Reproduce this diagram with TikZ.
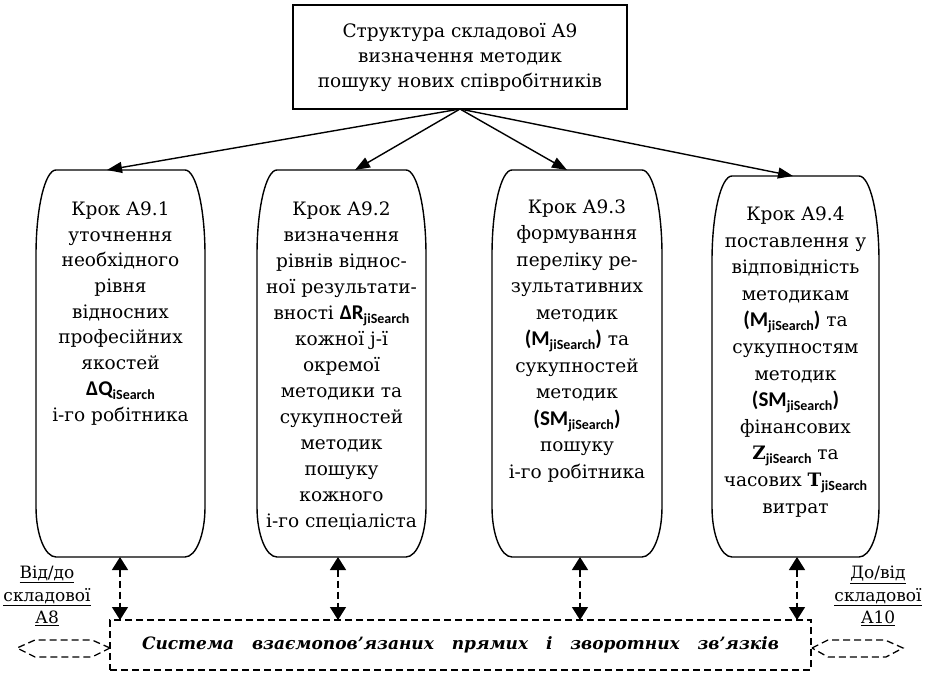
\documentclass[tikz,border=0pt]{standalone}
\usepackage{fontspec}
\setmainfont{DejaVu Serif}
\newfontfamily\carl{Carlito}
\usetikzlibrary{arrows.meta}

% bold sans symbols with lowered bold sans indices
\newcommand\ssub[1]{\raisebox{-4pt}{\fontsize{14}{14}\selectfont\carl\bfseries #1}}
\newcommand\bsym[1]{{\fontsize{21}{21}\selectfont\carl\bfseries #1}}
\newcommand\bser[1]{{\bfseries #1}}

% step outline: flat top and bottom, tall elliptic corners
\newcommand\stepshape[3]{%
  \draw[frame] ([xshift=20pt]#1.north west) -- ([xshift=-20pt]#1.north east)
    arc[start angle=90,end angle=0,x radius=20pt,y radius=#2]
    -- ([yshift=#3]#1.south east)
    arc[start angle=0,end angle=-90,x radius=20pt,y radius=#3]
    -- ([xshift=20pt]#1.south west)
    arc[start angle=270,end angle=180,x radius=20pt,y radius=#3]
    -- ([yshift=-#2]#1.north west)
    arc[start angle=180,end angle=90,x radius=20pt,y radius=#2] -- cycle;}

\begin{document}
\begin{tikzpicture}[x=1pt,y=-1pt,
  frame/.style={draw, line width=1.4pt},
  stepbox/.style={draw=none, inner sep=0pt, outer sep=0pt, anchor=north west},
  steptext/.style={anchor=north, align=center, inner sep=0pt, font=\fontsize{18.5}{#1}\selectfont},
  steptext/.default=26,
  arr/.style={line width=1.4pt, -{Triangle[length=15pt,width=11pt]}},
  darr/.style={line width=1.5pt, dash pattern=on 7pt off 4pt,
    {Triangle[length=13pt,width=16pt]}-{Triangle[length=13pt,width=16pt]}},
  dashln/.style={line width=1.3pt, dash pattern=on 7pt off 4pt},
  side/.style={align=center, inner sep=0pt, font=\fontsize{17}{22.5}\selectfont}
]
\useasboundingbox (0,0) rectangle (930,674);

% title block
\node[frame, minimum width=334pt, minimum height=104pt, inner sep=0pt, outer sep=0pt,
  align=center, font=\fontsize{18.5}{25}\selectfont] (top) at (460,57)
  {Структура складової А9\\визначення методик\\пошуку нових співробітників};

% step frames
\node[stepbox, minimum width=169pt, minimum height=387pt] (b1) at (36,170) {};
\node[stepbox, minimum width=169pt, minimum height=387pt] (b2) at (257,170) {};
\node[stepbox, minimum width=170pt, minimum height=387pt] (b3) at (492,170) {};
\node[stepbox, minimum width=167pt, minimum height=381pt] (b4) at (712,176) {};
\stepshape{b1}{85pt}{50pt}
\stepshape{b2}{85pt}{50pt}
\stepshape{b3}{85pt}{50pt}
\stepshape{b4}{85pt}{50pt}

% step texts
\node[steptext=25.7] (t1) at (120.5,201.5) {Крок А9.1\\уточнення\\необхідного\\рівня\\відносних\\професійних\\якостей\\
  \bsym{ΔQ}\ssub{iSearch}\\і-го робітника};
\node[steptext] (t2) at (341.5,201.5) {Крок А9.2\\визначення\\рівнів віднос-\\ної результати-\\
  вності \bsym{ΔR}\ssub{jiSearch}\\кожної j-ї\\окремої\\методики та\\сукупностей\\методик\\пошуку\\кожного\\і-го спеціаліста};
\node[steptext=26.5] (t3) at (577,199.5) {Крок А9.3\\формування\\переліку ре-\\зультативних\\методик\\
  \bsym{(M}\ssub{jiSearch}\bsym{)} та\\сукупностей\\методик\\\bsym{(SM}\ssub{jiSearch}\bsym{)}\\пошуку\\і-го робітника};
\node[steptext=26.6] (t4) at (795.5,206.5) {Крок А9.4\\поставлення у\\відповідність\\методикам\\
  \bsym{(M}\ssub{jiSearch}\bsym{)} та\\сукупностям\\методик\\\bsym{(SM}\ssub{jiSearch}\bsym{)}\\фінансових\\
  \bser{Z}\ssub{jiSearch} та\\часових \bser{T}\ssub{jiSearch}\\витрат};

% links system
\node[dashln, draw, minimum width=701pt, minimum height=50pt, inner sep=0pt, outer sep=0pt,
  font=\fontsize{17}{20}\selectfont\bfseries\itshape] (sys) at (460.5,645)
  {\makebox[637pt][s]{Система взаємопов’язаних прямих і зворотних зв’язків}};

% side labels
\node[side] (lin) at (47,596) {\underline{Від/до}\\\underline{складової}\\\underline{А8}};
\node[side] (rin) at (878,596) {\underline{До/від}\\\underline{складової}\\\underline{А10}};

% exchange with neighbouring components
\draw[dashln] (110,648) -- (92,640) -- (35,640) -- (17,648) -- (35,657) -- (92,657) -- cycle;
\draw[dashln] (812,648) -- (828,640) -- (885,640) -- (903,648) -- (886,657) -- (828,657) -- cycle;

% structure arrows
\draw[arr] (top.south) -- ([xshift=-13.5pt]b1.north);
\draw[arr] (top.south) -- ([xshift=13.5pt]b2.north);
\draw[arr] (top.south) -- ([xshift=-10pt]b3.north);
\draw[arr] (top.south) -- ([xshift=-2.5pt]b4.north);

% feedback arrows
\draw[darr] ([xshift=-0.5pt]b1.south) -- ([xshift=-0.5pt]b1.south |- sys.north);
\draw[darr] ([xshift=-3.5pt]b2.south) -- ([xshift=-3.5pt]b2.south |- sys.north);
\draw[darr] ([xshift=3pt]b3.south) -- ([xshift=3pt]b3.south |- sys.north);
\draw[darr] ([xshift=1.5pt]b4.south) -- ([xshift=1.5pt]b4.south |- sys.north);
\end{tikzpicture}
\end{document}
